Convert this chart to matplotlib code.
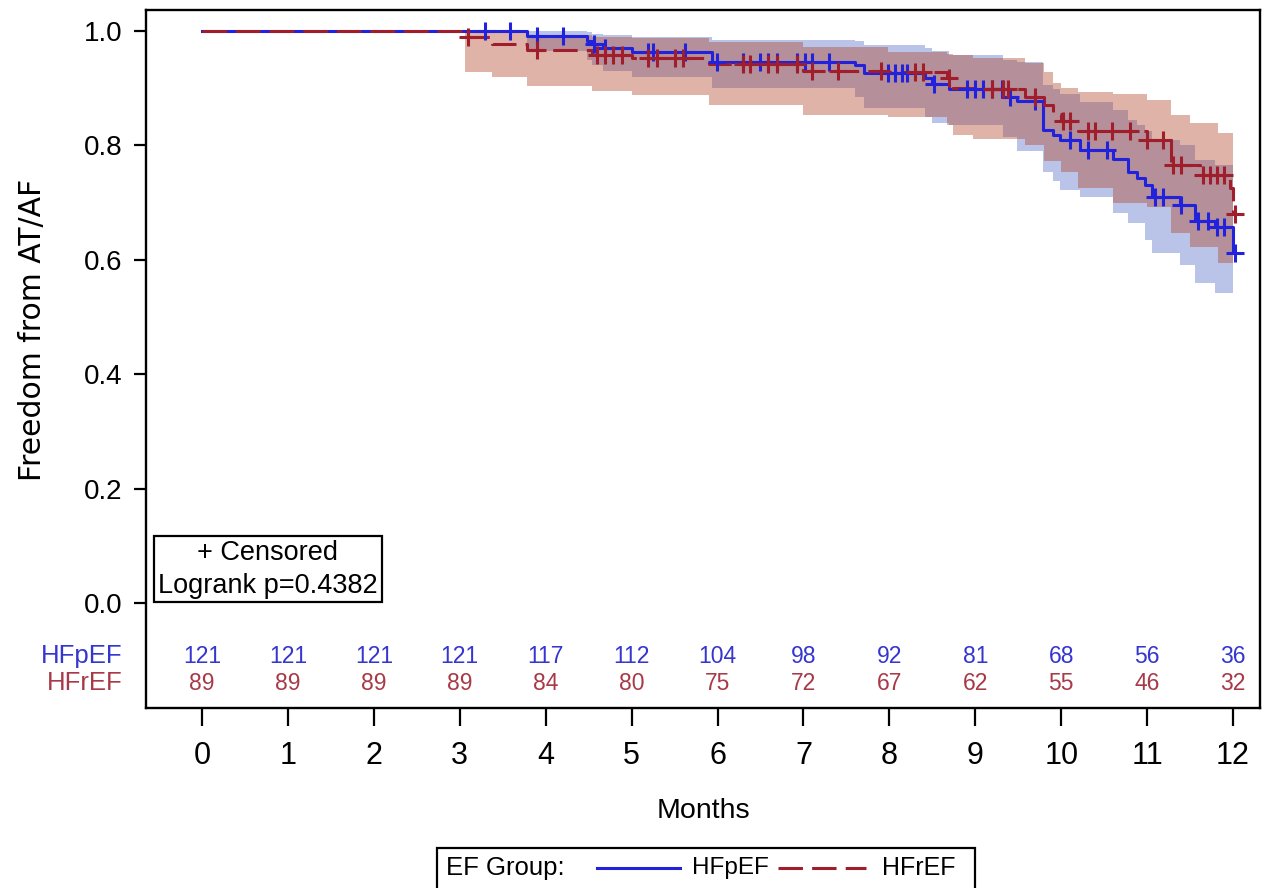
import numpy as np
import matplotlib
matplotlib.use("Agg")
from matplotlib import pyplot as plt
from matplotlib.lines import Line2D
from matplotlib.patches import Rectangle

# Kaplan-Meier estimates (step times in months, survival, 95% CI)
hfp_time = [0, 3.78, 4.48, 4.54, 4.67, 5.00, 5.93, 7.60, 7.70, 8.41, 8.50, 8.70, 9.32, 9.49,
            9.79, 9.90, 9.99, 10.22, 10.60, 10.78, 10.88, 10.98, 11.06, 11.38, 11.56, 11.79, 12.00]
hfp_surv = [1.0, .992, .983, .977, .970, .963, .946, .941, .927, .917, .908, .898, .885, .877,
            .827, .818, .809, .792, .777, .754, .743, .731, .710, .696, .667, .658, .612]
hfp_low = [1.0, .965, .950, .940, .930, .920, .900, .885, .865, .850, .840, .835, .815, .790,
           .754, .737, .722, .710, .682, .664, .664, .635, .612, .591, .559, .542, .542]
hfp_up = [1.0, 1.0, .998, .995, .993, .990, .985, .982, .975, .970, .965, .958, .950, .945,
          .905, .898, .890, .875, .862, .845, .835, .825, .810, .800, .775, .765, .720]
hfp_cens = [3.29, 3.58, 3.9, 4.2, 4.56, 4.69, 5.19, 5.25, 5.62, 5.99, 6.3, 6.5, 6.59, 6.69,
            6.92, 7.02, 7.1, 7.3, 7.98, 8.07, 8.15, 8.2, 8.52, 8.9, 9.0, 9.09, 9.19, 9.31,
            9.4, 9.7, 10.1, 10.31, 10.53, 11.09, 11.18, 11.4, 11.59, 11.71, 11.81, 11.9, 12.02]

hfr_time = [0, 3.06, 3.38, 3.78, 4.54, 5.00, 5.90, 7.00, 7.98, 8.67, 8.74, 8.97, 9.58, 9.80,
            9.90, 10.00, 10.20, 10.60, 11.00, 11.28, 11.50, 11.62, 11.82, 11.96, 12.00]
hfr_surv = [1.0, .989, .978, .966, .958, .953, .942, .930, .929, .917, .900, .899, .885, .870,
            .855, .843, .826, .826, .809, .766, .766, .748, .748, .726, .680]
hfr_low = [1.0, .928, .920, .903, .895, .888, .871, .853, .850, .835, .818, .812, .800, .772,
           .772, .754, .725, .700, .693, .647, .623, .623, .594, .594, .594]
hfr_up = [1.0, .999, .997, .993, .990, .987, .980, .972, .964, .960, .958, .953, .944, .929,
          .909, .900, .894, .890, .879, .853, .839, .839, .822, .822, .822]
hfr_cens = [3.1, 3.9, 4.6, 4.69, 4.78, 4.89, 5.19, 5.3, 5.5, 5.6, 6.3, 6.38, 6.59, 6.69, 6.92,
            7.1, 7.4, 7.9, 8.3, 8.39, 8.69, 9.19, 9.32, 9.38, 9.7, 10.02, 10.1, 10.31, 10.39,
            10.59, 10.8, 11.0, 11.18, 11.3, 11.4, 11.65, 11.73, 11.81, 11.9, 12.02]

# numbers at risk
risk_months = list(range(13))
hfp_risk = [121, 121, 121, 121, 117, 112, 104, 98, 92, 81, 68, 56, 36]
hfr_risk = [89, 89, 89, 89, 84, 80, 75, 72, 67, 62, 55, 46, 32]

last_time = 12.02

BLUE = "#2222dc"
RED = "#a01e2c"
BLUE_TXT = "#3535d0"
RED_TXT = "#a83a48"
DASH = (0, (8, 3))

plt.rcParams['font.family'] = ['Liberation Sans', 'DejaVu Sans']

W, H = 1262, 888
fig = plt.figure(figsize=(W / 100, H / 100), dpi=100)
ax = fig.add_axes([146 / W, 1 - 708 / H, 1114 / W, 698 / H])


def step_xy(t, v):
    t = np.append(np.asarray(t, float), last_time)
    v = np.append(np.asarray(v, float), v[-1])
    return t, v


def censor_y(t, v, c):
    idx = np.searchsorted(np.asarray(t), np.asarray(c), side='right') - 1
    return np.asarray(v)[idx]


# confidence bands
ax.fill_between(hfp_time, hfp_low, hfp_up, step='post', color="#b9c4e8", lw=0, zorder=1)
ax.fill_between(hfr_time, hfr_low, hfr_up, step='post', color="#b14325", alpha=0.4, lw=0, zorder=2)

tb, sb = step_xy(hfp_time, hfp_surv)
tr, sr = step_xy(hfr_time, hfr_surv)
ax.step(tb, sb, where='post', color=BLUE, lw=2.2, zorder=4)
ax.step(tr, sr, where='post', color=RED, lw=2.2, ls=DASH, zorder=5)

ax.plot(hfp_cens, censor_y(hfp_time, hfp_surv, hfp_cens), ls='none', marker='+',
        ms=13, mew=2.2, color=BLUE, zorder=6)
ax.plot(hfr_cens, censor_y(hfr_time, hfr_surv, hfr_cens), ls='none', marker='+',
        ms=13, mew=2.2, color=RED, zorder=6)

ax.set_xlim(-0.652, 12.314)
ax.set_ylim(-0.1836, 1.0367)
ax.set_xticks(risk_months)
ax.set_yticks(np.arange(0, 1.01, 0.2))
ax.set_yticklabels([f"{v:.1f}" for v in np.arange(0, 1.01, 0.2)])
ax.tick_params(axis='y', labelsize=20, length=9, width=1.6, pad=8)
ax.tick_params(axis='x', labelsize=22, length=13, width=1.6, pad=11)
for sp in ax.spines.values():
    sp.set_linewidth(1.7)
ax.set_xlabel("Months", fontsize=20.5, labelpad=19)

# at-risk table inside the frame
y_p, y_r = -0.0927, -0.14
for m, a, b in zip(risk_months, hfp_risk, hfr_risk):
    ax.text(m, y_p, str(a), color=BLUE_TXT, fontsize=16.5, ha='center', va='center')
    ax.text(m, y_r, str(b), color=RED_TXT, fontsize=16.5, ha='center', va='center')
tr_lbl = ax.get_yaxis_transform()
ax.text(-0.021, y_p, "HFpEF", color=BLUE_TXT, fontsize=18.5, ha='right', va='center',
        transform=tr_lbl, clip_on=False)
ax.text(-0.021, y_r, "HFrEF", color=RED_TXT, fontsize=18.5, ha='right', va='center',
        transform=tr_lbl, clip_on=False)

ax.text(0.1095, 0.199, "+ Censored\nLogrank p=0.4382", transform=ax.transAxes,
        ha='center', va='center', fontsize=19.5, linespacing=1.35,
        bbox=dict(boxstyle='square,pad=0.14', fc='white', ec='black', lw=1.6))

fig.text(33 / W, 1 - 330 / H, "Freedom from AT/AF", rotation=90, ha='center', va='center',
         fontsize=21.5, family=['DejaVu Sans'])

# legend strip along the bottom
fig.patches.append(Rectangle((437 / W, -0.02), (975 - 437) / W, (888 - 848) / H + 0.02,
                             transform=fig.transFigure, fill=False, lw=1.6, ec='black'))
ly = 1 - 868 / H
fig.text(446 / W, ly, "EF Group:", fontsize=18.5, ha='left', va='center')
fig.lines.append(Line2D([597 / W, 680 / W], [ly, ly], transform=fig.transFigure,
                        color=BLUE, lw=2.2))
fig.text(692 / W, ly, "HFpEF", fontsize=17.5, ha='left', va='center')
fig.lines.append(Line2D([778 / W, 866 / W], [ly, ly], transform=fig.transFigure,
                        color=RED, lw=2.2, ls=DASH))
fig.text(882 / W, ly, "HFrEF", fontsize=18, ha='left', va='center')

fig.savefig("out.png", dpi=100)
